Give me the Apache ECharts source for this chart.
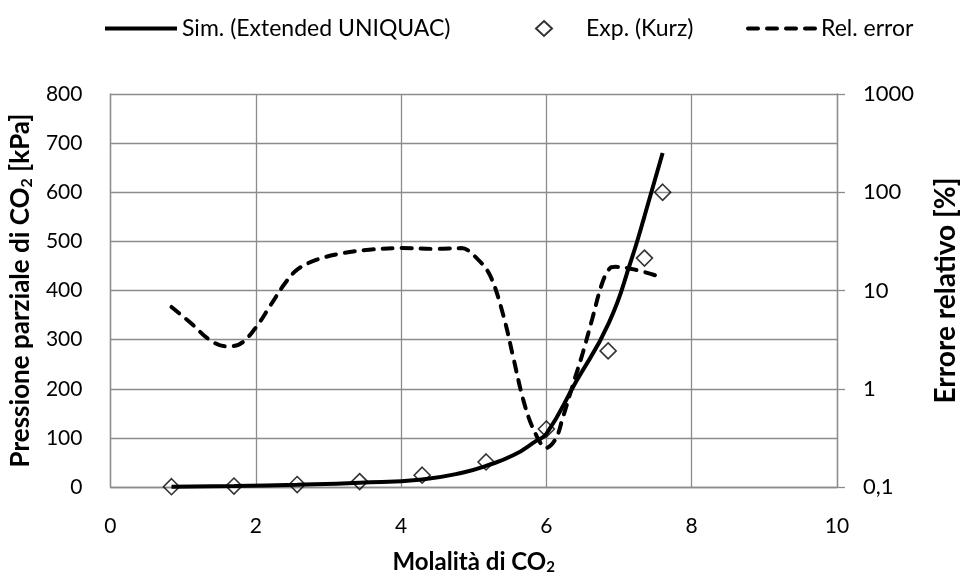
<!DOCTYPE html>
<html>
<head>
<meta charset="utf-8">
<script src="https://cdn.jsdelivr.net/npm/echarts@6/dist/echarts.min.js"></script>
<style>
html,body{margin:0;padding:0;background:#fff;}
#chart{width:968px;height:581px;}
</style>
</head>
<body>
<div id="chart"></div>
<script>
// ---- data ----
const simX = [0.84, 1.70, 2.57, 3.43, 4.29, 4.87, 5.17, 5.55, 5.86, 6.00, 6.40, 6.86, 7.17, 7.35, 7.60];
const simY = [0.5, 2, 4.5, 8.5, 15.5, 30, 43, 65, 94, 108, 212, 334, 463, 551, 680];

const expX = [0.84, 1.70, 2.57, 3.43, 4.29, 5.17, 6.00, 6.85, 7.35, 7.60];
const expY = [0.6, 2, 5, 11, 24, 51, 118, 277, 466, 600];

const errX = [0.84, 1.13, 1.35, 1.58, 1.76, 1.98, 2.21, 2.39, 2.57, 2.84, 3.20, 3.56, 4.01, 4.47, 4.83, 5.05, 5.23, 5.41, 5.55, 5.68, 5.82, 6.00, 6.13, 6.22, 6.36, 6.50, 6.63, 6.77, 6.88, 6.95, 7.22, 7.60];
const errY = [6.8, 4.5, 3.2, 2.7, 2.8, 4.0, 7.2, 11.5, 16.3, 20.6, 24, 26, 27, 26.5, 27, 21, 14, 5.5, 2.0, 0.78, 0.39, 0.25, 0.31, 0.49, 1.07, 2.3, 5.1, 12, 17, 17.4, 16.3, 13.5];

const seriesNames = ['Sim. (Extended UNIQUAC)', 'Exp. (Kurz)', 'Rel. error'];
const xTitle = 'Molalità di CO{sub|2}';
const yLeftTitle = 'Pressione parziale di CO{sub|2} [kPa]';
const yRightTitle = 'Errore relativo [%]';

const zip = (xs, ys) => xs.map((x, i) => [x, ys[i]]);

const FONT = 'Lato';
const GRID = '#8c8c8c';
const subRich = (fs) => ({ sub: { fontSize: fs, fontWeight: 'bold', fontFamily: FONT, color: '#000', padding: [Math.round(fs * 0.75), 0, 0, 0] } });
const legendText = { fontFamily: FONT, fontSize: 23, color: '#000' };

const chart = echarts.init(document.getElementById('chart'), null, { renderer: 'canvas' });
chart.setOption({
  animation: false,
  backgroundColor: '#fff',
  textStyle: { fontFamily: FONT, color: '#000' },
  grid: { left: 110, right: 119, top: 94, bottom: 94, containLabel: false },
  legend: [
    { data: [seriesNames[0]], left: 98, top: 12, itemWidth: 72, itemHeight: 14, itemGap: 0,
      itemStyle: { opacity: 0 }, lineStyle: { width: 4 }, textStyle: legendText },
    { data: [seriesNames[1]], left: 530, top: 12, itemWidth: 16, itemHeight: 15, itemGap: 0,
      textStyle: Object.assign({ padding: [0, 0, 0, 29] }, legendText) },
    { data: [seriesNames[2]], left: 741, top: 12, itemWidth: 68, itemHeight: 14, itemGap: 0,
      itemStyle: { opacity: 0 }, lineStyle: { width: 4 }, textStyle: legendText }
  ],
  xAxis: {
    type: 'value', min: 0, max: 10, interval: 2,
    name: xTitle, nameLocation: 'middle', nameGap: 62,
    nameTextStyle: { fontFamily: FONT, fontSize: 24, fontWeight: 'bold', color: '#000', rich: subRich(15) },
    axisLine: { show: true, lineStyle: { color: GRID, width: 1.3 } },
    axisTick: { show: false },
    axisLabel: { fontFamily: FONT, fontSize: 21, color: '#000', margin: 29 },
    splitLine: { show: true, lineStyle: { color: GRID, width: 1.3 } }
  },
  yAxis: [
    {
      type: 'value', min: 0, max: 800, interval: 100, position: 'left',
      name: yLeftTitle, nameLocation: 'middle', nameGap: 73, nameRotate: 90,
      nameTextStyle: { fontFamily: FONT, fontSize: 26, fontWeight: 'bold', color: '#000', rich: subRich(16) },
      axisLine: { show: true, lineStyle: { color: GRID, width: 1.3 } },
      axisTick: { show: false },
      axisLabel: { fontFamily: FONT, fontSize: 21, color: '#000', margin: 28 },
      splitLine: { show: true, lineStyle: { color: GRID, width: 1.3 } }
    },
    {
      type: 'log', logBase: 10, min: 0.1, max: 1000, position: 'right',
      name: yRightTitle, nameLocation: 'middle', nameGap: 95, nameRotate: 90,
      nameTextStyle: { fontFamily: FONT, fontSize: 28, fontWeight: 'bold', color: '#000' },
      axisLine: { show: true, lineStyle: { color: GRID, width: 1.3 } },
      axisTick: { show: true, length: 8, inside: false, lineStyle: { color: GRID, width: 1.3 } },
      minorTick: { show: false },
      axisLabel: { fontFamily: FONT, fontSize: 22, color: '#000', margin: 26,
        formatter: v => String(Number(v.toPrecision(6))).replace('.', ',') },
      splitLine: { show: false }
    }
  ],
  series: [
    {
      name: seriesNames[0], type: 'line', yAxisIndex: 0, data: zip(simX, simY),
      smooth: 0.5, symbol: 'none', z: 3,
      lineStyle: { color: '#000', width: 4 }, itemStyle: { color: '#000' }
    },
    {
      name: seriesNames[1], type: 'scatter', yAxisIndex: 0, data: zip(expX, expY),
      symbol: 'diamond', symbolSize: 16, z: 4,
      itemStyle: { color: 'rgba(255,255,255,0)', borderColor: '#000', borderWidth: 1.6 }
    },
    {
      name: seriesNames[2], type: 'line', yAxisIndex: 1, data: zip(errX, errY),
      smooth: 0.35, symbol: 'none', z: 3,
      lineStyle: { color: '#000', width: 4, type: [10, 9], cap: 'round' }, itemStyle: { color: '#000' }
    }
  ]
});
</script>
</body>
</html>
